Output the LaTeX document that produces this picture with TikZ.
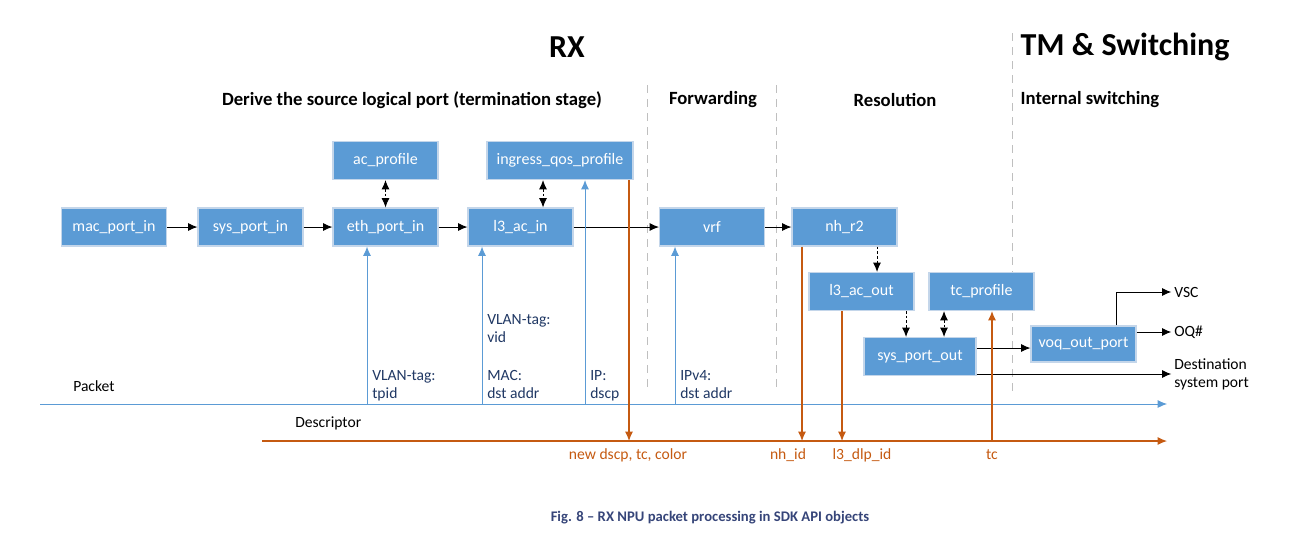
\documentclass[tikz,border=0pt]{standalone}
\usepackage{fontspec}
\setmainfont{Carlito}
\usetikzlibrary{arrows.meta,positioning,calc}
\definecolor{boxblue}{RGB}{91,155,213}
\definecolor{boxedge}{RGB}{196,214,234}
\definecolor{descorange}{RGB}{197,90,17}
\definecolor{sepgray}{RGB}{191,191,191}
\definecolor{capblue}{RGB}{54,69,121}
\definecolor{lbltext}{RGB}{32,56,100}

\begin{document}
\begin{tikzpicture}[x=0.75pt,y=-0.75pt,>={Latex[length=7pt,width=6pt]},
    obj/.style={fill=boxblue,draw=boxedge,line width=0.8pt,text=white,inner sep=0pt,
      minimum width=78.75pt,minimum height=28.5pt,font=\fontsize{12}{14}\selectfont},
    flow/.style={->,line width=0.7pt},
    link/.style={line width=0.7pt,dash pattern=on 2pt off 1.5pt},
    pktline/.style={pktcol,line width=0.7pt},
    desline/.style={descorange,line width=0.8pt},
    txt/.style={inner sep=0pt,font=\fontsize{11.7}{13.5}\selectfont},
    pktlbl/.style={txt,anchor=north west,align=left,text=lbltext},
    deslbl/.style={txt,text=descorange},
    section/.style={font=\fontsize{14}{16}\selectfont\bfseries},
    stage/.style={font=\fontsize{24}{28}\selectfont\bfseries}]
    \colorlet{pktcol}{boxblue}
    \useasboundingbox (0,0) rectangle (1314,551);

    % stage and section titles
    \node[stage] (rx) at (567,47) {RX};
    \node[stage,anchor=west] (tm) at (1016,47) {TM \& Switching};
    \node[section] (derive) at (412,100) {Derive the source logical port (termination stage)};
    \node[section] (fwd) at (713,100) {Forwarding};
    \node[section] (res) at (895,100) {Resolution};
    \node[section,anchor=west] (intsw) at (1016,100) {Internal switching};
    \foreach \x/\y in {647/85,776/85,1012/33}
      \draw[sepgray,line width=0.7pt,dash pattern=on 6pt off 4.5pt] (\x,\y) -- (\x,392);

    % API objects
    \node[obj] (macin) at (114,227) {mac\_port\_in};
    \node[obj] (sysin) at (250.5,227) {sys\_port\_in};
    \node[obj] (ethin) at (385.5,227) {eth\_port\_in};
    \node[obj] (acprof) at (385.5,160.5) {ac\_profile};
    \node[obj] (l3in) at (520.5,227) {l3\_ac\_in};
    \node[obj,minimum width=109.5pt] (qosprof) at (560,160.5) {ingress\_qos\_profile};
    \node[obj] (vrf) at (712,227) {vrf};
    \node[obj] (nhr2) at (844.5,227) {nh\_r2};
    \node[obj] (l3out) at (861.5,291.5) {l3\_ac\_out};
    \node[obj] (tcprof) at (981.5,291.5) {tc\_profile};
    \node[obj,minimum width=84pt] (sysout) at (920,356.5) {sys\_port\_out};
    \node[obj,minimum height=27pt] (voq) at (1083.5,344) {voq\_out\_port};

    % outputs
    \node[txt,anchor=west] (vsc) at (1174,292) {VSC};
    \node[txt,anchor=west] (oq) at (1174,332) {OQ\#};
    \node[txt,anchor=west,align=left] (dest) at (1174,374) {Destination\\system port};

    % object chain
    \draw[flow] (macin) -- (sysin);
    \draw[flow] (sysin) -- (ethin);
    \draw[flow] (ethin) -- (l3in);
    \draw[flow] (l3in) -- (vrf);
    \draw[flow] (vrf) -- (nhr2);
    \draw[link,<->] (acprof) -- (ethin);
    \draw[link,<->] (qosprof.south -| 543,0) -- (l3in.north -| 543,0);
    \draw[link,->] (nhr2.south -| 877,0) -- (l3out.north -| 877,0);
    \draw[link,->] (l3out.south -| 906,0) -- (sysout.north -| 906,0);
    \draw[link,<->] (tcprof.south -| 944,0) -- (sysout.north -| 944,0);
    \draw[flow] (sysout.east |- 0,348) -- (voq.west |- 0,348);
    \draw[flow] (voq.north -| 1116,0) |- ([xshift=-2pt]vsc.west);
    \draw[flow] (voq.east |- oq.west) -- ([xshift=-2pt]oq.west);
    \draw[flow] (sysout.east |- 0,374) -- ([xshift=-2pt]dest.west);

    % packet and descriptor
    \coordinate (pkt0) at (40,404);
    \coordinate (pkt1) at (1167,404);
    \coordinate (des0) at (262,441);
    \coordinate (des1) at (1167,441);
    \draw[pktline,->] (pkt0) -- (pkt1);
    \draw[desline,->] (des0) -- (des1);
    \node[txt,anchor=west] (pkt) at (73,386) {Packet};
    \node[txt,anchor=west] (des) at (295,423) {Descriptor};

    \foreach \n/\x in {ethin/367,l3in/482,qosprof/585,vrf/675}
      \draw[pktline,->] (pkt0 -| \x,0) -- (\n.south -| \x,0);
    \node[pktlbl] (tpid) at (372,370) {VLAN-tag:\\tpid};
    \node[pktlbl] (vid) at (487,314) {VLAN-tag:\\vid};
    \node[pktlbl] (mac) at (487,370) {MAC:\\dst addr};
    \node[pktlbl] (dscp) at (590,370) {IP:\\dscp};
    \node[pktlbl] (ipv4) at (680,370) {IPv4:\\dst addr};

    \node[deslbl] (newdscp) at (628,455) {new dscp, tc, color};
    \node[deslbl] (nhid) at (788,455) {nh\_id};
    \node[deslbl] (dlpid) at (862,455) {l3\_dlp\_id};
    \node[deslbl] (tc) at (992,455) {tc};
    \draw[desline,->] (qosprof.south -| 629,0) -- (des0 -| 629,0);
    \draw[desline,->] (nhr2.south -| 802,0) -- (des0 -| 802,0);
    \draw[desline,->] (l3out.south -| 842,0) -- (des0 -| 842,0);
    \draw[desline,->] (des0 -| 992,0) -- (tcprof.south -| 992,0);

    % caption
    \node[text=capblue,font=\fontsize{11}{13}\selectfont\bfseries] (caption) at (710,518)
      {Fig. 8 – RX NPU packet processing in SDK API objects};
  \end{tikzpicture}
\end{document}
